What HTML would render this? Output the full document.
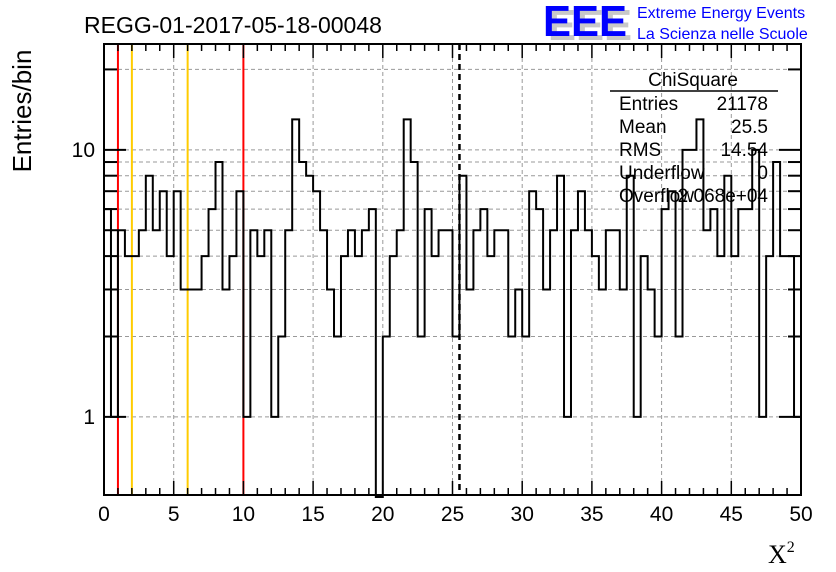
<!DOCTYPE html>
<html><head><meta charset="utf-8"><style>
html,body{margin:0;padding:0;background:#fff;}
svg{display:block;font-family:"Liberation Sans",sans-serif;}
</style></head><body>
<svg id="chart" width="836" height="572" viewBox="0 0 836 572" xmlns="http://www.w3.org/2000/svg">
<rect x="0" y="0" width="836" height="572" fill="#fff"/>
<g id="grid"></g>
<g id="vlines"></g>
<path id="hist" fill="none" stroke="#000" stroke-width="2"/>
<g id="axes"></g>
<text x="84" y="33" font-size="23">REGG-01-2017-05-18-00048</text>
<g>
<text x="548" y="40" font-size="44" font-weight="bold" fill="#c8c8c8" textLength="84" lengthAdjust="spacingAndGlyphs">EEE</text>
<text x="543" y="36" font-size="44" font-weight="bold" fill="#0000ff" textLength="84" lengthAdjust="spacingAndGlyphs">EEE</text>
<text x="637" y="18" font-size="16" fill="#0000ff">Extreme Energy Events</text>
<text x="637" y="39" font-size="16" fill="#0000ff">La Scienza nelle Scuole</text>
</g>
<g font-size="19">
<text x="693" y="86" text-anchor="middle">ChiSquare</text>
<line x1="610" y1="91" x2="778" y2="91" stroke="#000" stroke-width="1.5"/>
<text x="619" y="110">Entries</text><text x="768" y="110" text-anchor="end">21178</text>
<text x="619" y="133">Mean</text><text x="768" y="133" text-anchor="end">25.5</text>
<text x="619" y="156">RMS</text><text x="768" y="156" text-anchor="end">14.54</text>
<text x="619" y="179">Underflow</text><text x="768" y="179" text-anchor="end">0</text>
<text x="619" y="202">Overflow</text><text x="768" y="202" text-anchor="end">2.068e+04</text>
</g>
<text transform="translate(31,111) rotate(-90)" text-anchor="middle" font-size="26">Entries/bin</text>
<text x="768" y="563" font-size="26" font-family="Liberation Serif,serif">X<tspan font-size="16" dy="-11">2</tspan></text>
<g id="xlabels" font-size="21" text-anchor="middle"></g>
<g id="ylabels" font-size="21" text-anchor="end"></g>
</svg>
<script>
const binCounts = [6,1,5,4,4,5,8,5,7,4,7,3,3,3,4,6,9,3,4,7,1,5,4,5,1,2,5,13,9,8,7,5,3,2,4,5,4,5,6,0,2,4,5,13,9,2,6,4,5,5,2,8,3,5,6,4,5,5,2,3,2,7,6,3,5,8,1,5,7,5,4,3,5,5,3,8,1,4,3,2,6,7,2,10,10,13,5,6,4,8,4,6,6,10,1,4,9,4,4,1];
const xTicks = [0,5,10,15,20,25,30,35,40,45,50];
const yTickLabels = [1,10];
const redLines = [1,10];
const orangeLines = [2,6];
const meanValue = 25.5;
const binWidth = 0.5;

const X0=104,X1=801,Y0=495,Y1=44;
const yMin=0.51,yMax=24.9;
const sx=v=>X0+(v-0)/(50-0)*(X1-X0);
const sy=v=>Y0-(Math.log10(v)-Math.log10(yMin))/(Math.log10(yMax)-Math.log10(yMin))*(Y0-Y1);
const NS="http://www.w3.org/2000/svg";
function mk(tag,attrs,parent){const e=document.createElementNS(NS,tag);for(const k in attrs)e.setAttribute(k,attrs[k]);parent.appendChild(e);return e;}
const grid=document.getElementById('grid');
const yg=[1,2,3,4,5,6,7,8,9,10,20];
yg.forEach(v=>{const l=mk('line',{x1:X0,x2:X1,y1:sy(v),y2:sy(v),stroke:'#999','stroke-dasharray':'4,3','stroke-width':1},grid);

});
xTicks.slice(1,-1).forEach(v=>{const l=mk('line',{x1:sx(v),x2:sx(v),y1:Y1,y2:Y0,stroke:'#999','stroke-dasharray':'4,3','stroke-width':1},grid);

});
let d='';
binCounts.forEach((c,i)=>{const xa=sx(i*binWidth),xb=sx((i+1)*binWidth);let y=c>0?sy(c):Y0+2;
if(i===0)d+=`M${xa},${y}`;else d+=`L${xa},${y}`;d+=`L${xb},${y}`;});
document.getElementById('hist').setAttribute('d',d);
const vl=document.getElementById('vlines');
redLines.forEach(v=>{const l=mk('line',{x1:sx(v),x2:sx(v),y1:Y1,y2:Y0,stroke:'#ff0000','stroke-width':2},vl);

});
orangeLines.forEach(v=>{const l=mk('line',{x1:sx(v),x2:sx(v),y1:Y1,y2:Y0,stroke:'#ffcc00','stroke-width':2},vl);

});
const ml=mk('line',{x1:sx(meanValue),x2:sx(meanValue),y1:Y1,y2:Y0,stroke:'#000','stroke-width':2.5,'stroke-dasharray':'6,4'},vl);


const ax=document.getElementById('axes');
const fr=mk('rect',{x:X0,y:Y1,width:X1-X0,height:Y0-Y1,fill:'none',stroke:'#000','stroke-width':2},ax);


for(let v=0;v<=50;v+=1){const big=v%5===0;const len=big?14:7;
mk('line',{x1:sx(v),x2:sx(v),y1:Y0,y2:Y0-len,stroke:'#000','stroke-width':1.5},ax);
mk('line',{x1:sx(v),x2:sx(v),y1:Y1,y2:Y1+len,stroke:'#000','stroke-width':1.5},ax);}
yg.forEach(v=>{const big=(v===1||v===10);const len=big?22:13;
mk('line',{x1:X0,x2:X0+len,y1:sy(v),y2:sy(v),stroke:'#000','stroke-width':2},ax);
mk('line',{x1:X1,x2:X1-len,y1:sy(v),y2:sy(v),stroke:'#000','stroke-width':2},ax);});
const xl=document.getElementById('xlabels');
xTicks.forEach(v=>{const t=mk('text',{x:sx(v),y:521},xl);t.textContent=v;

});
const ylb=document.getElementById('ylabels');
yTickLabels.forEach(v=>{const t=mk('text',{x:95,y:sy(v)+7},ylb);t.textContent=v;

});
</script>
</body></html>
